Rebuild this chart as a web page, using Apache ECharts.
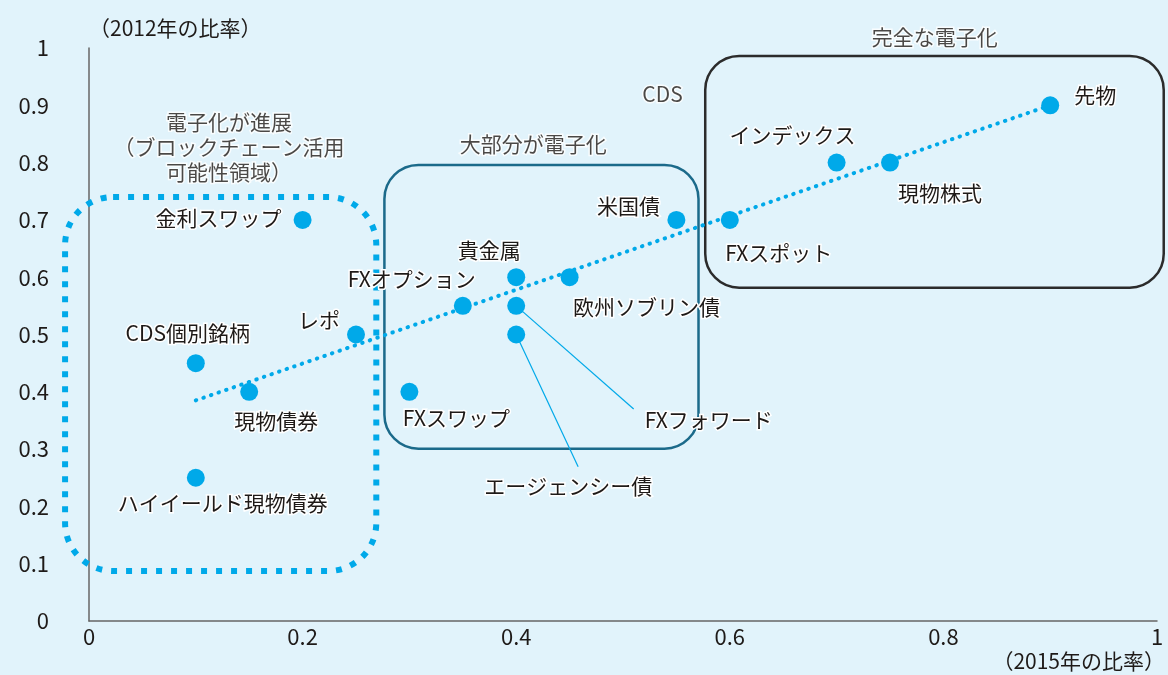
<!DOCTYPE html>
<html><head><meta charset="utf-8">
<script src="https://cdn.jsdelivr.net/npm/echarts@6/dist/echarts.min.js"></script>
<style>html,body{margin:0;padding:0;background:#e1f3fb}#c{width:1168px;height:675px}</style>
</head><body><div id="c"></div>
<script>
// ---- data ----
const xTicks = [0, 0.2, 0.4, 0.6, 0.8, 1];
const yTicks = [0, 0.1, 0.2, 0.3, 0.4, 0.5, 0.6, 0.7, 0.8, 0.9, 1];
const names = ['先物','インデックス','現物株式','米国債','FXスポット','欧州ソブリン債','貴金属','FXオプション','FXフォワード','エージェンシー債','FXスワップ','レポ','金利スワップ','CDS個別銘柄','現物債券','ハイイールド現物債券'];
const share2015 = [0.9, 0.7, 0.75, 0.55, 0.6, 0.45, 0.4, 0.35, 0.4, 0.4, 0.3, 0.25, 0.2, 0.1, 0.15, 0.1];
const share2012 = [0.9, 0.8, 0.8, 0.7, 0.7, 0.6, 0.6, 0.55, 0.55, 0.5, 0.4, 0.5, 0.7, 0.45, 0.4, 0.25];
const trendX = [0.1, 0.9];
const trendY = [0.385, 0.9];
const groupTitles = ['完全な電子化', '大部分が電子化', '電子化が進展\n（ブロックチェーン活用\n可能性領域）', 'CDS'];
const groupTitleX = [0.792, 0.416, 0.131, 0.537];
const groupTitleY = [1.019, 0.833, 0.827, 0.92];
const groupX0 = [0.577, 0.2766, -0.0224];
const groupX1 = [1.0063, 0.5707, 0.269];
const groupY0 = [0.5817, 0.3007, 0.0873];
const groupY1 = [0.986, 0.796, 0.740];
const calloutNames = ['FXフォワード', 'エージェンシー債'];
const calloutEndX = [0.51, 0.458];
const calloutEndY = [0.37, 0.269];
const xName = '（2015年の比率）';
const yName = '（2012年の比率）';

// ---- layout / style (pixels) ----
const labelOffsets = {
  '先物':[45,-10],'インデックス':[-44,-28],'現物株式':[50,30],'米国債':[-48,-14],'FXスポット':[49,33],
  '欧州ソブリン債':[77,30],'貴金属':[-27,-27],'FXオプション':[-51,-27],'FXスワップ':[47,26],'レポ':[-37,-14],
  '金利スワップ':[-84,-2],'CDS個別銘柄':[-8,-30],'現物債券':[27,29],'ハイイールド現物債券':[27,25]
};
const calloutTextOffsets = [[75,11],[-10,19]];
const boxStyles = [
  {stroke:'#2b2b2b', lineWidth:2.5, r:34, lineDash:null},
  {stroke:'#1b6a8a', lineWidth:2.5, r:34, lineDash:null},
  {stroke:'#00a9e9', lineWidth:6, r:48, lineDash:[6,9]}
];
const FONT = '"Noto Sans CJK JP", "Noto Sans", sans-serif';
const TEXT = '#1e1a18';
const BLUE = '#00a9e9';
const FS = 21;

const chart = echarts.init(document.getElementById('c'));
const pointData = names.map((n, i) => {
  const off = labelOffsets[n];
  return {
    name: n, value: [share2015[i], share2012[i]],
    label: off ? {show: true, position: 'inside', offset: off, formatter: n} : {show: false}
  };
});

chart.setOption({
  backgroundColor: '#e1f3fb',
  animation: false,
  grid: {left: 89, right: 7, top: 48, bottom: 54, containLabel: false},
  xAxis: {
    type: 'value', min: 0, max: 1, interval: 0.2,
    splitLine: {show: false}, axisTick: {show: false},
    axisLine: {lineStyle: {color: '#666', width: 1.5}},
    axisLabel: {color: TEXT, fontSize: 22, fontFamily: FONT, margin: 5,
      formatter: v => { const t = xTicks.find(t => Math.abs(t - v) < 1e-6); return t === undefined ? '' : String(t); }},
    name: xName, nameLocation: 'end', nameGap: 8,
    nameTextStyle: {color: TEXT, fontSize: 21, fontFamily: FONT, align: 'right', verticalAlign: 'top', padding: [30, 0, 0, 0]}
  },
  yAxis: {
    type: 'value', min: 0, max: 1, interval: 0.1,
    splitLine: {show: false}, axisTick: {show: false},
    axisLine: {lineStyle: {color: '#666', width: 1.5}},
    axisLabel: {color: TEXT, fontSize: 22, fontFamily: FONT, margin: 40,
      formatter: v => { const t = yTicks.find(t => Math.abs(t - v) < 1e-6); return t === undefined ? '' : String(t); }},
    name: yName, nameLocation: 'end', nameGap: 9,
    nameTextStyle: {color: TEXT, fontSize: 21, fontFamily: FONT, align: 'left', verticalAlign: 'bottom'}
  },
  series: [
    {
      type: 'custom', name: 'groups', z: 1, clip: false,
      data: groupX0.map((x0, i) => [x0, groupX1[i], groupY0[i], groupY1[i]]),
      renderItem: (params, api) => {
        const i = params.dataIndex;
        const p0 = api.coord([api.value(0), api.value(3)]);
        const p1 = api.coord([api.value(1), api.value(2)]);
        const s = boxStyles[i];
        return {type: 'rect', shape: {x: p0[0], y: p0[1], width: p1[0] - p0[0], height: p1[1] - p0[1], r: s.r},
          style: {fill: 'none', stroke: s.stroke, lineWidth: s.lineWidth, lineDash: s.lineDash}};
      }
    },
    {
      type: 'line', name: 'trend', z: 2, symbol: 'none', silent: true,
      data: trendX.map((x, i) => [x, trendY[i]]),
      lineStyle: {color: BLUE, width: 4, type: [0.5, 7.5], cap: 'round'}
    },
    {
      type: 'custom', name: 'callouts', z: 3, clip: false,
      data: calloutNames.map((n, i) => {
        const k = names.indexOf(n);
        return [share2015[k], share2012[k], calloutEndX[i], calloutEndY[i]];
      }),
      renderItem: (params, api) => {
        const i = params.dataIndex;
        const a = api.coord([api.value(0), api.value(1)]);
        const b = api.coord([api.value(2), api.value(3)]);
        const o = calloutTextOffsets[i];
        return {type: 'group', children: [
          {type: 'line', shape: {x1: a[0], y1: a[1], x2: b[0], y2: b[1]}, style: {stroke: BLUE, lineWidth: 1.2}},
          {type: 'text', z2: 10, style: {text: calloutNames[i], x: b[0] + o[0], y: b[1] + o[1], align: 'center', verticalAlign: 'middle',
            fill: TEXT, fontSize: FS, fontFamily: FONT, stroke: '#fff', lineWidth: 3}}
        ]};
      }
    },
    {
      type: 'scatter', name: 'markets', z: 4, symbolSize: 18,
      itemStyle: {color: BLUE, opacity: 1},
      label: {color: TEXT, fontSize: FS, fontFamily: FONT, textBorderColor: '#fff', textBorderWidth: 3, align: 'center', verticalAlign: 'middle'},
      data: pointData
    },
    {
      type: 'scatter', name: 'titles', z: 5, symbolSize: 0, clip: false, silent: true,
      data: groupTitles.map((t, i) => ({name: t, value: [groupTitleX[i], groupTitleY[i]]})),
      label: {show: true, position: 'inside', formatter: p => p.name, color: TEXT, fontSize: FS, lineHeight: 25,
        fontFamily: FONT, textBorderColor: '#fff', textBorderWidth: 3, align: 'center', verticalAlign: 'middle'}
    }
  ]
});
</script></body></html>
